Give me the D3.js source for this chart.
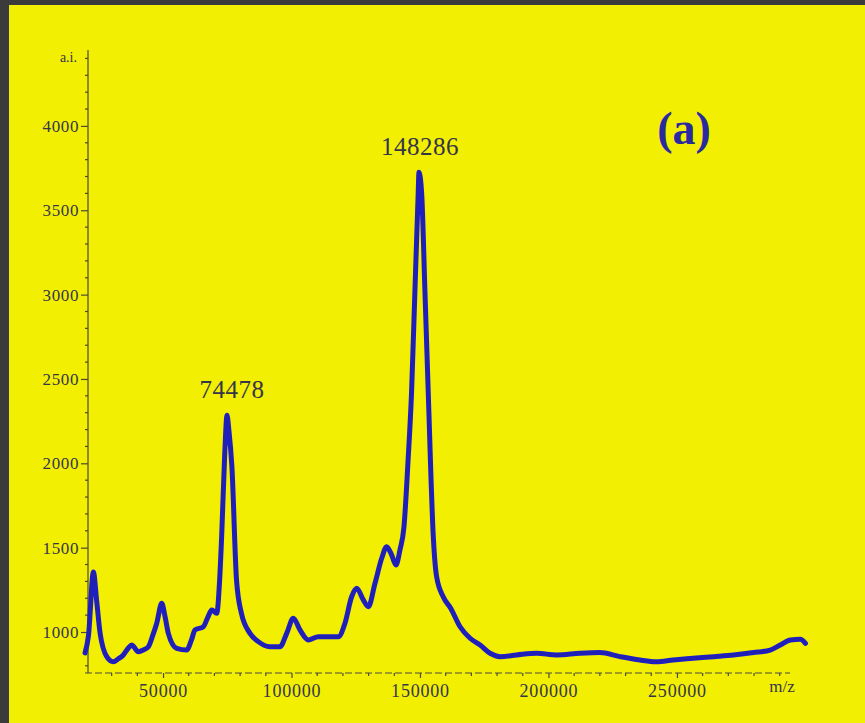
<!DOCTYPE html>
<html>
<head>
<meta charset="utf-8">
<script src="https://cdn.jsdelivr.net/npm/d3@7"></script>
<style>
  html, body { margin: 0; padding: 0; background: #3b3b3b; }
  svg { display: block; }
</style>
</head>
<body>
<svg id="chart" width="865" height="723"></svg>
<script>
// ---- data ----
const mzValues = [19650, 21000, 22900, 24200, 25500, 28100, 30660, 32500, 34550, 36500, 37820, 40400, 42500, 44300, 46000, 47550, 49500, 50800, 52060, 55330, 59220, 61000, 62450, 65700, 67500, 68950, 70900, 72000, 72860, 74000, 74900, 75600, 76800, 78600, 80500, 83850, 87080, 91630, 95520, 98130, 100700, 103300, 106540, 110430, 114980, 118200, 120800, 123400, 125370, 127940, 129900, 132500, 135100, 137040, 138990, 140660, 142200, 143770, 145300, 146700, 148000, 149300, 149600, 150650, 151950, 153230, 155180, 156470, 159040, 162000, 165600, 169500, 173400, 177300, 181130, 187600, 195400, 203200, 212300, 220000, 227800, 235600, 242000, 248500, 256300, 264300, 272000, 279800, 286300, 290200, 294200, 298000, 300000];
const intensity = [876, 980, 1355, 1180, 994, 854, 824, 840, 864, 905, 923, 883, 895, 913, 980, 1052, 1170, 1090, 992, 903, 893, 950, 1012, 1031, 1090, 1130, 1111, 1300, 1585, 2050, 2285, 2200, 1980, 1308, 1111, 992, 943, 913, 913, 992, 1081, 1012, 953, 972, 972, 972, 1052, 1209, 1259, 1190, 1150, 1289, 1437, 1506, 1456, 1397, 1486, 1624, 2000, 2414, 3009, 3600, 3725, 3600, 3009, 2414, 1566, 1328, 1209, 1140, 1031, 963, 923, 874, 854, 864, 874, 864, 874, 878, 854, 834, 824, 834, 844, 854, 864, 878, 893, 923, 953, 957, 933];
const yTickValues = [1000, 1500, 2000, 2500, 3000, 3500, 4000];
const yMinorTicks = d3.range(800, 4401, 100);
const xTickValues = [50000, 100000, 150000, 200000, 250000];
const xMinorTicks = d3.range(30000, 290001, 10000);
const peakLabels = [{mz: 74478, label: "74478", at: 2285}, {mz: 148286, label: "148286", at: 3725}];
const panelLabel = "(a)";
const yAxisTitle = "a.i.";
const xAxisTitle = "m/z";

// ---- layout ----
const svg = d3.select("#chart");
const W = 865, H = 723;
svg.append("rect").attr("x", 9).attr("y", 5).attr("width", W - 9).attr("height", H - 5).attr("fill", "#f2ef02");

const x = d3.scaleLinear().domain([20800, 294000]).range([88, 790]);
const y = d3.scaleLinear().domain([757, 4450]).range([673, 50]);

const axisColor = "#4a4838";
const textColor = "#35354a";
const serif = "'Liberation Serif', 'Times New Roman', serif";

// Y axis
const yAxisG = svg.append("g").attr("transform", "translate(88,0)");
yAxisG.call(d3.axisLeft(y).tickValues(yTickValues).tickSize(7).tickPadding(2).tickFormat(d3.format("d")));
yAxisG.select(".domain").attr("stroke", axisColor).attr("stroke-width", 1.2).attr("d", `M0,${y(4450)}V${y(757)}`);
yAxisG.selectAll(".tick line").attr("stroke", axisColor).attr("stroke-width", 1.2);
yAxisG.selectAll(".tick text").attr("fill", textColor).attr("font-family", serif).attr("font-size", 17).attr("letter-spacing", "0.6px");
yAxisG.selectAll(".minor").data(yMinorTicks.filter(v => !yTickValues.includes(v))).enter()
  .append("line").attr("class", "minor")
  .attr("x1", -3).attr("x2", 0).attr("y1", d => y(d)).attr("y2", d => y(d))
  .attr("stroke", axisColor).attr("stroke-width", 1.2);

svg.append("text").attr("x", 77).attr("y", 62).attr("text-anchor", "end")
  .attr("fill", textColor).attr("font-family", serif).attr("font-size", 14).text(yAxisTitle);

// X axis
const xAxisG = svg.append("g").attr("transform", "translate(0,673)");
xAxisG.call(d3.axisBottom(x).tickValues(xTickValues).tickSize(5).tickPadding(6).tickFormat(d3.format("d")));
xAxisG.select(".domain").attr("stroke", axisColor).attr("stroke-width", 1).attr("stroke-dasharray", "7,3").attr("d", `M${x(20800) - 3},0H${x(294000)}`);
xAxisG.selectAll(".tick line").attr("stroke", axisColor).attr("stroke-width", 1.2);
xAxisG.selectAll(".tick text").attr("fill", textColor).attr("font-family", serif).attr("font-size", 18).attr("letter-spacing", "0.8px");
xAxisG.selectAll(".minor").data(xMinorTicks.filter(v => !xTickValues.includes(v))).enter()
  .append("line").attr("class", "minor")
  .attr("x1", d => x(d)).attr("x2", d => x(d)).attr("y1", 0).attr("y2", 3)
  .attr("stroke", axisColor).attr("stroke-width", 1.2);

svg.append("text").attr("x", 782).attr("y", 692).attr("text-anchor", "middle")
  .attr("fill", textColor).attr("font-family", serif).attr("font-size", 17).text(xAxisTitle);

// Spectrum
const pts = mzValues.map((m, i) => [m, intensity[i]]);
const line = d3.line().x(d => x(d[0])).y(d => y(d[1])).curve(d3.curveMonotoneX);
svg.append("path").datum(pts).attr("d", line)
  .attr("fill", "none").attr("stroke", "#1e1ec8").attr("stroke-width", 5)
  .attr("stroke-linejoin", "round").attr("stroke-linecap", "round");
svg.append("path").datum(pts).attr("d", line)
  .attr("fill", "none").attr("stroke", "#2a2a70").attr("stroke-width", 1)
  .attr("stroke-opacity", 0.6);

// Peak labels
svg.selectAll(".peak").data(peakLabels).enter().append("text")
  .attr("class", "peak")
  .attr("x", d => d.mz === 148286 ? 420 : 232)
  .attr("y", d => y(d.at) - 17)
  .attr("text-anchor", "middle").attr("fill", textColor)
  .attr("font-family", serif).attr("font-size", 25).attr("letter-spacing", "0.5px")
  .text(d => d.label);

// Panel label
svg.append("text").attr("x", 684).attr("y", 144).attr("text-anchor", "middle")
  .attr("fill", "#2a2aa0").attr("font-family", serif).attr("font-weight", "bold")
  .attr("font-size", 46).text(panelLabel);
</script>
</body>
</html>
